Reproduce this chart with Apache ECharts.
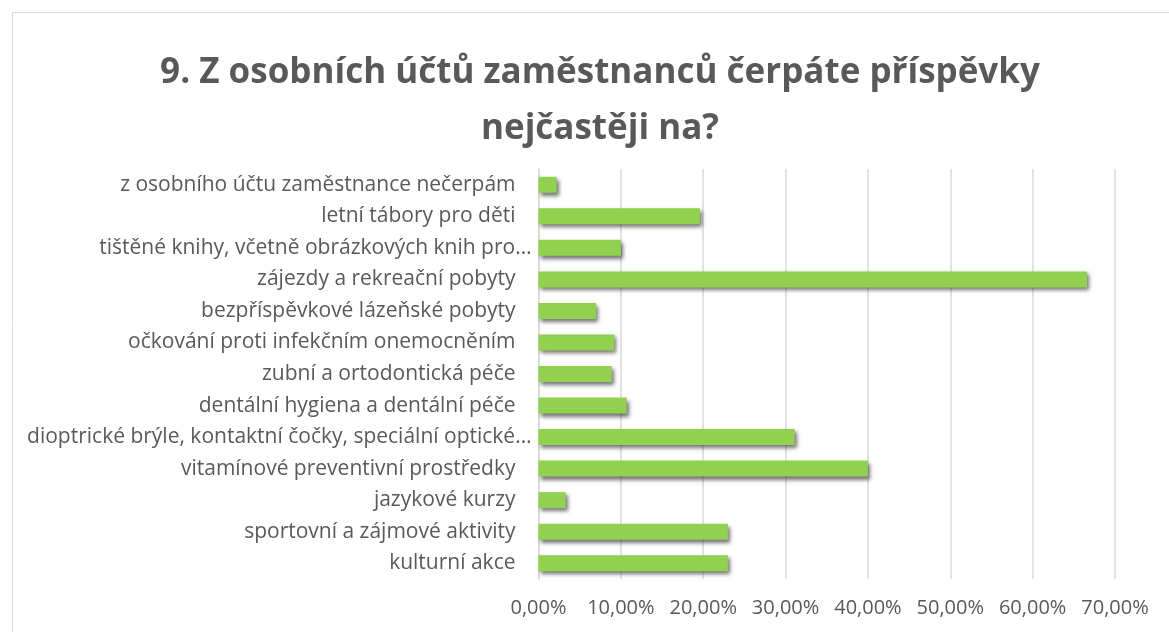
<!DOCTYPE html>
<html>
<head>
<meta charset="utf-8">
<script src="https://cdn.jsdelivr.net/npm/echarts@6/dist/echarts.min.js"></script>
<style>
html,body{margin:0;padding:0;background:#fff;}
#chart{width:1169px;height:632px;}
</style>
</head>
<body>
<div id="chart"></div>
<script>
const titleText = "9. Z osobních účtů zaměstnanců čerpáte příspěvky\nnejčastěji na?";
// bottom to top
const categories = [
  "kulturní akce",
  "sportovní a zájmové aktivity",
  "jazykové kurzy",
  "vitamínové preventivní prostředky",
  "dioptrické brýle, kontaktní čočky, speciální optické…",
  "dentální hygiena a dentální péče",
  "zubní a ortodontická péče",
  "očkování proti infekčním onemocněním",
  "bezpříspěvkové lázeňské pobyty",
  "zájezdy a rekreační pobyty",
  "tištěné knihy, včetně obrázkových knih pro…",
  "letní tábory pro děti",
  "z osobního účtu zaměstnance nečerpám"
];
const values = [23.0, 23.0, 3.3, 40.0, 31.1, 10.7, 8.9, 9.2, 7.0, 66.6, 10.0, 19.6, 2.2];
const axisMin = 0, axisMax = 70, axisStep = 10;

const FONT = "Open Sans";
const chart = echarts.init(document.getElementById('chart'));
chart.setOption({
  backgroundColor: '#fff',
  animation: false,
  graphic: [{
    type: 'rect', left: 10, top: 10, silent: true,
    shape: {width: 1200, height: 700},
    style: {fill: 'none', stroke: '#d9d9d9', lineWidth: 1}
  }],
  title: {
    text: titleText, left: 595, textAlign: 'center', top: 40,
    textStyle: {fontFamily: FONT, fontWeight: 'bold', fontSize: 35, color: '#595959', lineHeight: 56}
  },
  grid: {left: 538.5, right: 54, top: 169, bottom: 53, containLabel: false},
  xAxis: {
    type: 'value', min: axisMin, max: axisMax, interval: axisStep,
    axisLine: {show: false}, axisTick: {show: false},
    splitLine: {lineStyle: {color: '#d9d9d9', width: 1.5}},
    axisLabel: {
      fontFamily: FONT, fontSize: 20, color: '#595959', margin: 19,
      formatter: v => v.toFixed(2).replace('.', ',') + '%'
    }
  },
  yAxis: {
    type: 'category', data: categories,
    axisLine: {lineStyle: {color: '#d9d9d9', width: 1.5}},
    axisTick: {show: false},
    axisLabel: {
      fontFamily: FONT, fontSize: 21, color: '#595959', margin: 7,
      formatter: v => v.endsWith('…') ? '{t|' + v + '}' : '{n|' + v + '}',
      rich: {
        t: {fontFamily: FONT, fontSize: 21, color: '#595959'},
        n: {fontFamily: FONT, fontSize: 21, color: '#595959', padding: [0, 16, 0, 0]}
      }
    }
  },
  series: [{
    type: 'bar', data: values, barWidth: 16,
    itemStyle: {
      color: '#92D050',
      shadowColor: 'rgba(0,0,0,0.55)', shadowBlur: 4, shadowOffsetX: 2, shadowOffsetY: 3
    }
  }]
});
</script>
</body>
</html>
